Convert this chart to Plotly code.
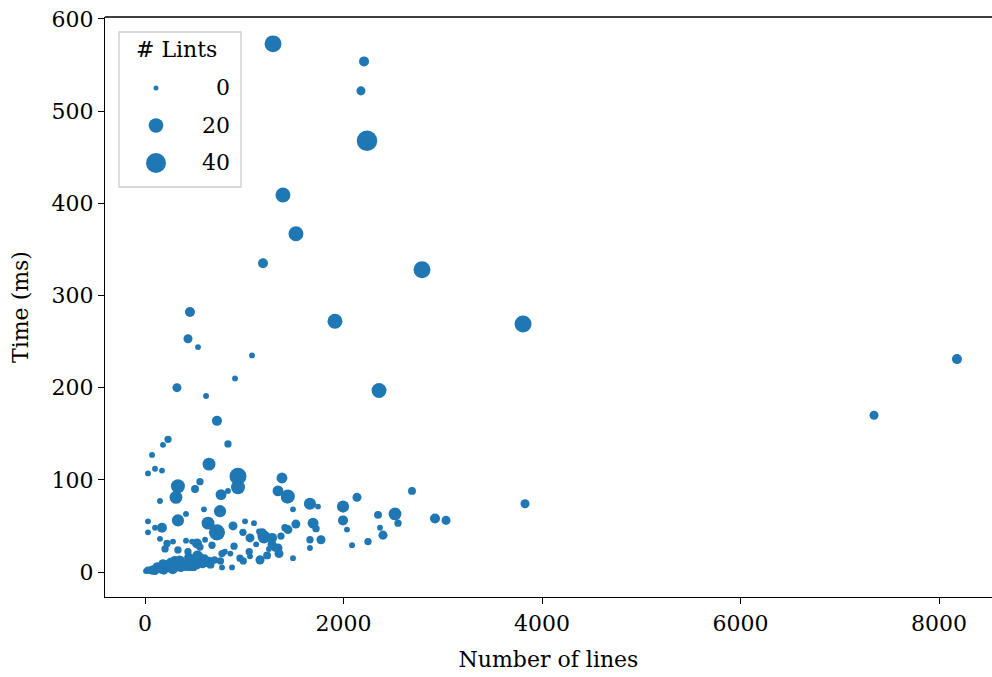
import plotly.graph_objects as go

# Number of lines, time (ms), number of lints per file
lines = [1290, 2207, 2176, 2237, 1390, 1521, 1189, 2791, 1914, 3809,
         453, 433, 534, 1078, 8181, 907, 2358, 322, 615, 7345,
         725, 232, 181, 836, 71, 645, 30, 101, 171, 937,
         937, 554, 504, 332, 312, 151, 766, 836, 1380, 1340,
         1431, 1662, 1743, 1491, 1995, 2136, 2690, 3829, 594, 756,
         413, 30, 30, 101, 171, 332, 635, 725, 887, 1008,
         1098, 987, 1058, 1149, 1199, 1280, 1370, 1340, 1350, 1491,
         1662, 1662, 1773, 1995, 2035, 2086, 1693, 1723, 2247, 2348,
         2368, 2398, 2519, 2549, 2922, 3033, 151, 222, 282, 202,
         413, 524, 605, 554, 675, 897, 957, 1058, 1159, 1249,
         776, 877, 776, 605, 332, 433, 474, 1410, 1520, 1160,
         755, 805, 1280, 1440, 1440, 760,
         10, 30, 50, 70, 90, 110, 130, 150, 170, 200,
         230, 260, 290, 320, 350, 380, 420, 460, 500, 550,
         600, 20, 60, 100, 140, 190, 240, 280, 330, 370,
         410, 450, 480, 520, 580, 640, 700, 40, 120, 180,
         250, 300, 360, 400, 440, 490, 530, 660,
         1050, 1120, 1230, 1310, 1180, 990, 860]
time_ms = [573, 554, 522, 468, 409, 367, 335, 328, 272, 269,
           282, 253, 244, 235, 231, 210, 197, 200, 191, 170,
           164, 144, 138, 139, 127, 117, 107, 112, 110, 104,
           92, 98, 90, 93, 81, 77, 84, 88, 102, 88,
           81, 74, 71, 68, 71, 81, 88, 74, 68, 66,
           63, 55, 43, 48, 48, 56, 53, 43, 50, 55,
           53, 43, 37, 44, 38, 37, 39, 26, 20, 15,
           35, 26, 35, 56, 46, 29, 53, 47, 33, 62,
           48, 40, 63, 53, 58, 56, 36, 31, 33, 25,
           34, 31, 35, 27, 29, 28, 15, 17, 13, 25,
           20, 5, 5, 16, 24, 22, 33, 48, 52, 14,
           40, 22, 30, 82, 46, 12,
           1, 2, 3, 2, 4, 3, 5, 6, 4, 8,
           6, 10, 7, 9, 12, 8, 10, 14, 12, 15,
           10, 1, 2, 1, 3, 2, 4, 3, 5, 4,
           6, 5, 8, 7, 9, 11, 13, 2, 6, 9,
           3, 12, 4, 7, 16, 5, 18, 8,
           22, 30, 18, 26, 42, 12, 20]
lints = [28, 8, 6, 42, 21, 21, 8, 28, 21, 28,
         8, 6, 1, 1, 8, 1, 21, 6, 1, 6,
         8, 3, 1, 3, 1, 15, 1, 1, 1, 28,
         18, 3, 4, 18, 15, 1, 10, 1, 10, 10,
         13, 13, 1, 1, 13, 6, 4, 6, 1, 13,
         1, 1, 1, 1, 8, 13, 15, 25, 6, 1,
         1, 3, 6, 1, 15, 8, 3, 6, 6, 1,
         3, 1, 6, 8, 1, 1, 10, 3, 3, 4,
         1, 6, 15, 3, 8, 6, 1, 3, 1, 3,
         1, 8, 1, 3, 3, 3, 3, 1, 6, 1,
         3, 1, 1, 1, 3, 3, 1, 3, 6, 3,
         3, 1, 6, 18, 6, 3,
         1, 3, 0, 6, 2, 4, 8, 3, 10, 6,
         4, 8, 3, 6, 10, 4, 3, 8, 6, 10,
         3, 0, 2, 4, 1, 6, 3, 8, 4, 2,
         6, 3, 8, 4, 6, 10, 3, 1, 4, 6,
         2, 8, 3, 4, 6, 3, 8, 4,
         3, 1, 4, 3, 8, 3, 1]

legend_values = [0, 20, 40]
x_ticks = [0, 2000, 4000, 6000, 8000]
y_ticks = [0, 100, 200, 300, 400, 500, 600]

COLOR = "#1f77b4"
FONT = "DejaVu Serif"
FS = 22


def diam(n):
    return (25 + 9.4 * n) ** 0.5


fig = go.Figure()
fig.add_trace(go.Scatter(
    x=lines, y=time_ms, mode="markers",
    marker=dict(color=COLOR, size=[diam(v) for v in lints], line=dict(width=0), opacity=1),
    showlegend=False, hoverinfo="x+y"))

W, H = 992, 677
L, R, T, B = 105, 0, 17, 80
pw, ph = W - L - R, H - T - B

shapes = []
annotations = []
# top spine
shapes.append(dict(type="line", xref="paper", yref="paper", x0=0, x1=1, y0=1, y1=1,
                   line=dict(color="black", width=1.4)))


def px2paper_x(px):
    return (px - L) / pw


def px2paper_y(py):
    return 1 - (py - T) / ph


# legend box
shapes.append(dict(type="rect", xref="paper", yref="paper",
                   x0=px2paper_x(119), x1=px2paper_x(241),
                   y0=px2paper_y(187), y1=px2paper_y(32),
                   line=dict(color="#cccccc", width=1.3), fillcolor="rgba(255,255,255,0.8)"))
annotations.append(dict(xref="paper", yref="paper", x=px2paper_x(176), y=px2paper_y(49),
                        text="# Lints", showarrow=False, xanchor="center", yanchor="middle",
                        font=dict(family=FONT, size=FS, color="black")))
for i, v in enumerate(legend_values):
    cy = 88 + i * 37.5
    d = diam(v)
    shapes.append(dict(type="circle", xref="paper", yref="paper",
                       xsizemode="pixel", ysizemode="pixel",
                       xanchor=px2paper_x(156), yanchor=px2paper_y(cy),
                       x0=-d / 2, x1=d / 2, y0=-d / 2, y1=d / 2,
                       fillcolor=COLOR, line=dict(width=0)))
    annotations.append(dict(xref="paper", yref="paper", x=px2paper_x(232), y=px2paper_y(cy),
                            text=str(v), showarrow=False, xanchor="right", yanchor="middle",
                            font=dict(family=FONT, size=FS, color="black")))

xr0 = -40 / 0.09925
xr1 = (W - 145) / 0.09925
yr0 = (572 - 597) / 0.9217
yr1 = (572 - 17) / 0.9217

fig.update_layout(
    width=W, height=H,
    margin=dict(l=L, r=R, t=T, b=B, pad=0),
    plot_bgcolor="white", paper_bgcolor="white",
    font=dict(family=FONT, size=FS, color="black"),
    shapes=shapes, annotations=annotations,
    xaxis=dict(range=[xr0, xr1], tickvals=x_ticks, ticktext=[str(t) for t in x_ticks],
               showgrid=False, zeroline=False, showline=True, linecolor="black", linewidth=1.4,
               ticks="outside", ticklen=6, tickwidth=1.3, tickcolor="black",
               title=dict(text="Number of lines", standoff=17,
                          font=dict(family=FONT, size=FS))),
    yaxis=dict(range=[yr0, yr1], tickvals=y_ticks, ticktext=[str(t) for t in y_ticks],
               showgrid=False, zeroline=False, showline=True, linecolor="black", linewidth=1.4,
               ticks="outside", ticklen=6, tickwidth=1.3, tickcolor="black",
               title=dict(text="Time (ms)", standoff=16,
                          font=dict(family=FONT, size=FS))),
)

fig.write_html("out.html", config={"displayModeBar": False},
               post_script="document.body.style.margin='0';")
